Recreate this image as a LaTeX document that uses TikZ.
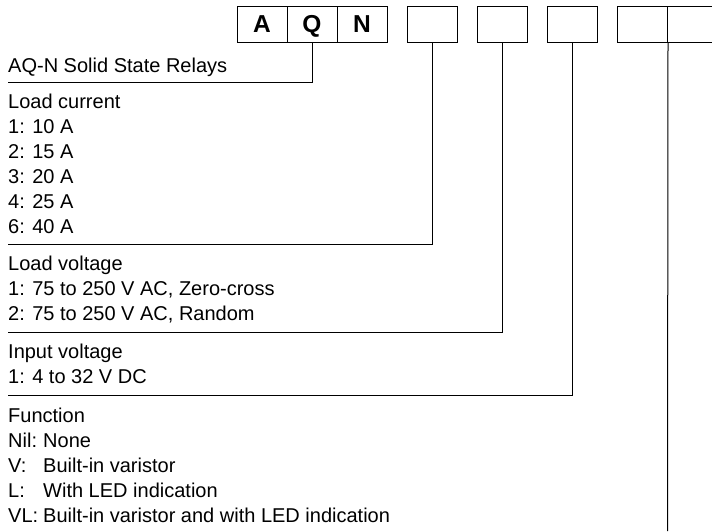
\documentclass[tikz,border=0pt]{standalone}
\usepackage{fontspec}
\setmainfont{Liberation Sans}
\begin{document}
\begin{tikzpicture}[x=1pt,y=-1pt,
  cell/.style={draw=black,line width=1pt,minimum width=50pt,minimum height=36pt,inner sep=0pt,text height=17.5pt,text depth=0pt,font=\fontsize{24.5}{24.5}\selectfont\bfseries},
  txt/.style={anchor=base west,inner sep=0pt,font=\fontsize{20}{20}\selectfont},
  conn/.style={draw=black,line width=1pt}]
\useasboundingbox (0,0) rectangle (712,531);
% code boxes
\node[cell] (b1) at (262,24) {A};
\node[cell] (b2) at (312,24) {Q};
\node[cell] (b3) at (362,24) {N};
\node[cell] (b4) at (432,24) {};
\node[cell] (b5) at (502,24) {};
\node[cell] (b6) at (572,24) {};
\node[cell] (b7) at (642.5,24) {};
\node[cell] (b8) at (692.5,24) {};
% texts
\node[txt] (t1) at (8,72) {AQ-N Solid State Relays};
\node[txt] (t2) at (8,108) {Load current};
\node[txt] (t2a) at (8,133) {1: 10 A};
\node[txt] (t2b) at (8,158) {2: 15 A};
\node[txt] (t2c) at (8,183) {3: 20 A};
\node[txt] (t2d) at (8,208) {4: 25 A};
\node[txt] (t2e) at (8,233) {6: 40 A};
\node[txt] (t3) at (8,270) {Load voltage};
\node[txt] (t3a) at (8,295) {1: 75 to 250 V AC, Zero-cross};
\node[txt] (t3b) at (8,320) {2: 75 to 250 V AC, Random};
\node[txt] (t4) at (8,358) {Input voltage};
\node[txt] (t4a) at (8,383) {1: 4 to 32 V DC};
\node[txt] (t5) at (8,422) {Function};
\node[txt] (t5a) at (8,447) {Nil:};
\node[txt] (t5av) at (43,447) {None};
\node[txt] (t5b) at (8,472) {V:};
\node[txt] (t5bv) at (43,472) {Built-in varistor};
\node[txt] (t5c) at (8,497) {L:};
\node[txt] (t5cv) at (43,497) {With LED indication};
\node[txt] (t5d) at (8,522) {VL:};
\node[txt] (t5dv) at (43,522) {Built-in varistor and with LED indication};
% connectors
\coordinate (e1) at (8,82);
\coordinate (e2) at (8,244);
\coordinate (e3) at (8,332);
\coordinate (e4) at (8,395);
\coordinate (e5) at (667.5,531);
\draw[conn] (e1) -| (b2.south);
\draw[conn] (e2) -| (b4.south);
\draw[conn] (e3) -| (b5.south);
\draw[conn] (e4) -| (b6.south);
\draw[conn] (b7.south east) -- (e5);
\end{tikzpicture}
\end{document}
